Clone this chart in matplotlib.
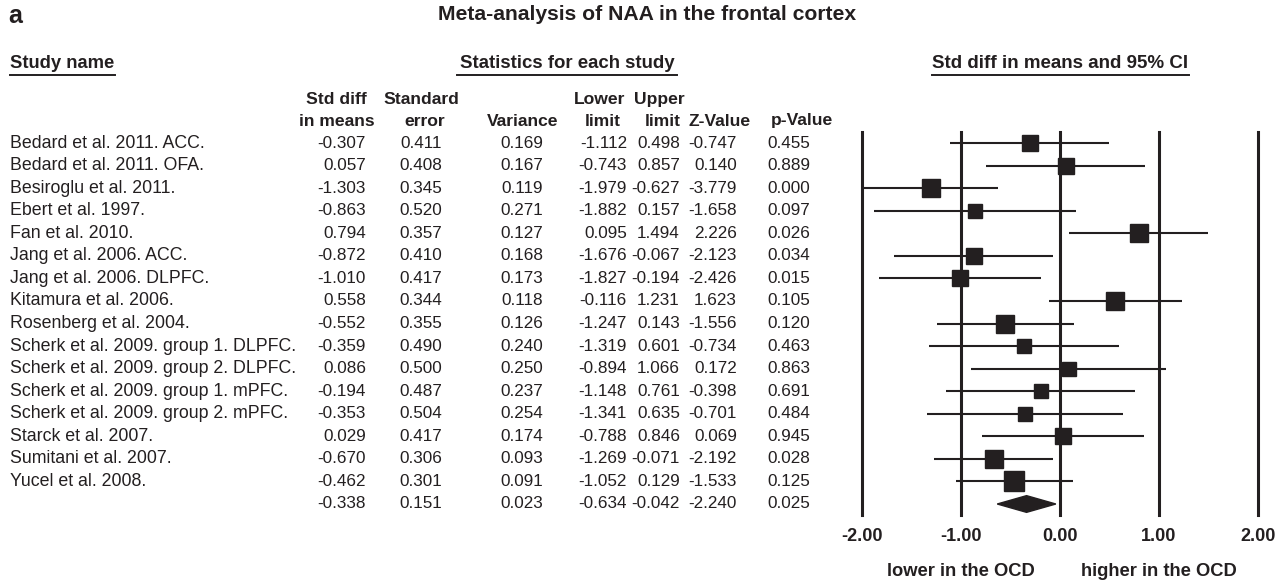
import matplotlib
matplotlib.use("Agg")
import matplotlib.pyplot as plt
import matplotlib.transforms as mtransforms
from matplotlib.lines import Line2D
import numpy as np

plt.rcParams['font.family'] = ['Liberation Sans', 'DejaVu Sans']

studies = ["Bedard et al. 2011. ACC.", "Bedard et al. 2011. OFA.", "Besiroglu et al. 2011.",
           "Ebert et al. 1997.", "Fan et al. 2010.", "Jang et al. 2006. ACC.",
           "Jang et al. 2006. DLPFC.", "Kitamura et al. 2006.", "Rosenberg et al. 2004.",
           "Scherk et al. 2009. group 1. DLPFC.", "Scherk et al. 2009. group 2. DLPFC.",
           "Scherk et al. 2009. group 1. mPFC.", "Scherk et al. 2009. group 2. mPFC.",
           "Starck et al. 2007.", "Sumitani et al. 2007.", "Yucel et al. 2008."]
smd = [-0.307, 0.057, -1.303, -0.863, 0.794, -0.872, -1.010, 0.558, -0.552, -0.359, 0.086,
       -0.194, -0.353, 0.029, -0.670, -0.462]
se = [0.411, 0.408, 0.345, 0.520, 0.357, 0.410, 0.417, 0.344, 0.355, 0.490, 0.500, 0.487,
      0.504, 0.417, 0.306, 0.301]
var = [0.169, 0.167, 0.119, 0.271, 0.127, 0.168, 0.173, 0.118, 0.126, 0.240, 0.250, 0.237,
       0.254, 0.174, 0.093, 0.091]
lower = [-1.112, -0.743, -1.979, -1.882, 0.095, -1.676, -1.827, -0.116, -1.247, -1.319,
         -0.894, -1.148, -1.341, -0.788, -1.269, -1.052]
upper = [0.498, 0.857, -0.627, 0.157, 1.494, -0.067, -0.194, 1.231, 0.143, 0.601, 1.066,
         0.761, 0.635, 0.846, -0.071, 0.129]
zval = [-0.747, 0.140, -3.779, -1.658, 2.226, -2.123, -2.426, 1.623, -1.556, -0.734, 0.172,
        -0.398, -0.701, 0.069, -2.192, -1.533]
pval = [0.455, 0.889, 0.000, 0.097, 0.026, 0.034, 0.015, 0.105, 0.120, 0.463, 0.863, 0.691,
        0.484, 0.945, 0.028, 0.125]
summary = dict(smd=-0.338, se=0.151, var=0.023, lower=-0.634, upper=-0.042, z=-2.240, p=0.025)
xticks = [-2.0, -1.0, 0.0, 1.0, 2.0]
xticklabels = ["-2.00", "-1.00", "0.00", "1.00", "2.00"]

W, H = 1285, 582
fig = plt.figure(figsize=(W / 100, H / 100), dpi=100)

def fx(px):
    return px / W

def fy(py):
    return 1 - py / H

n = len(studies)
row0_px, rowN_px = 143, 504
step = (rowN_px - row0_px) / n
ax_top = row0_px - 0.5 * step
ax_bot = rowN_px + 0.5 * step
ax = fig.add_axes([fx(862), fy(ax_bot), fx(1258) - fx(862), (ax_bot - ax_top) / H])
ax.set_xlim(-2, 2)
ax.set_ylim(n + 0.5, -0.5)
for s in ax.spines.values():
    s.set_visible(False)
ax.set_yticks([])
col = '#231f20'
for xt in xticks:
    ax.axvline(xt, color=col, lw=2.2, zorder=1, clip_on=False)
ax.set_xticks(xticks)
ax.set_xticklabels(xticklabels, fontsize=13, fontweight='bold', color=col)
ax.tick_params(axis='x', length=0, pad=9)

FS = 12.75
NFS = 12.3
rows = np.arange(n)
for i in rows:
    ax.plot([lower[i], upper[i]], [i, i], color=col, lw=1.5, zorder=2, solid_capstyle='butt',
            clip_on=False)
    side = 14.5 * (0.271 / var[i]) ** 0.25
    ax.plot(smd[i], i, marker='s', markersize=side * 0.72, color=col, zorder=3, linestyle='none')
half = 0.37
ax.fill([summary['lower'], summary['smd'], summary['upper'], summary['smd']],
        [n, n - half, n, n + half], color=col, zorder=3)

trans = mtransforms.blended_transform_factory(fig.transFigure, ax.transData)
colx = [366, 442, 543, 627, 680, 737, 810]
cols = [smd, se, var, lower, upper, zval, pval]
for i in rows:
    ax.text(fx(10), i, studies[i], transform=trans, ha='left', va='center', fontsize=FS,
            color=col, clip_on=False)
    for cx, vals in zip(colx, cols):
        ax.text(fx(cx), i, f"{vals[i]:.3f}", transform=trans, ha='right', va='center',
                fontsize=NFS, color=col, clip_on=False)
sumvals = [summary['smd'], summary['se'], summary['var'], summary['lower'], summary['upper'],
           summary['z'], summary['p']]
for cx, v in zip(colx, sumvals):
    ax.text(fx(cx), n, f"{v:.3f}", transform=trans, ha='right', va='center', fontsize=NFS,
            color=col, clip_on=False)

# headers
hdr = dict(fontweight='bold', color=col)
fig.text(fx(8), fy(23), "a", fontsize=18, va='baseline', **hdr)
fig.text(fx(647.5), fy(15), "Meta-analysis of NAA in the frontal cortex", ha='center',
         va='center', fontsize=15.2, **hdr)
fig.text(fx(10), fy(63), "Study name", ha='left', va='center', fontsize=13.2, **hdr)
fig.text(fx(460), fy(63), "Statistics for each study", ha='left', va='center', fontsize=13.4,
         **hdr)
fig.text(fx(932), fy(63), "Std diff in means and 95% CI", ha='left', va='center',
         fontsize=13.5, **hdr)
for x0, x1 in [(10, 115), (457, 677), (932, 1189)]:
    fig.add_artist(Line2D([fx(x0), fx(x1)], [fy(75), fy(75)], color=col, lw=1.4,
                          transform=fig.transFigure))

HFS = 12.6
h1 = [("Std diff", 336), ("Standard", 421), ("Lower", 600), ("Upper", 659)]
h2 = [("in means", 337), ("error", 425), ("Variance", 523), ("limit", 603), ("limit", 663),
      ("Z-Value", 720), ("p-Value", 802)]
for t, x in h1:
    fig.text(fx(x), fy(99), t, ha='center', va='center', fontsize=HFS, **hdr)
for t, x in h2:
    fig.text(fx(x), fy(121), t, ha='center', va='center', fontsize=HFS, **hdr)

fig.text(fx(961), fy(572), "lower in the OCD", ha='center', va='center', fontsize=13.2, **hdr)
fig.text(fx(1159), fy(572), "higher in the OCD", ha='center', va='center', fontsize=13.2,
         **hdr)

fig.savefig("out.png", dpi=100, facecolor='white')
